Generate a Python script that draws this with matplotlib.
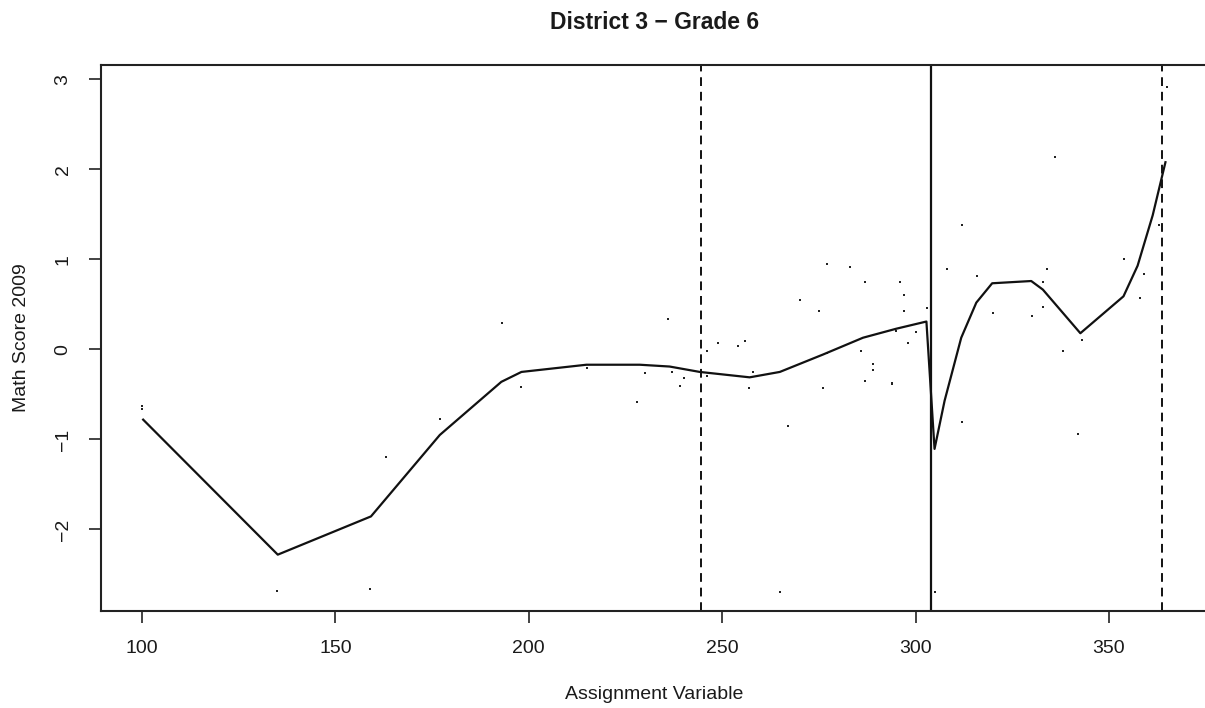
import matplotlib
matplotlib.use("Agg")
import matplotlib.pyplot as plt

plt.rcParams['font.family'] = ['Liberation Sans', 'DejaVu Sans']

# scatter data: assignment variable vs math score
pt_x = [100, 100, 135, 159, 163, 177, 193, 198, 215, 228, 230, 236, 237, 239, 240,
        246, 246, 249, 254, 256, 258, 257, 267, 265, 270, 275, 276, 277, 277, 283,
        286, 287, 287, 289, 289, 294, 294, 295, 296, 297, 297, 298, 300, 303, 305,
        308, 312, 312, 316, 320, 330, 333, 333, 334, 336, 338, 342, 343, 354, 358,
        359, 363, 365]
pt_y = [-0.63, -0.66, -2.68, -2.66, -1.20, -0.77, 0.29, -0.42, -0.21, -0.58, -0.26, 0.335, -0.25, -0.41, -0.32,
        -0.02, -0.29, 0.075, 0.04, 0.09, -0.25, -0.43, -0.85, -2.69, 0.55, 0.43, -0.43, 0.95, -0.035, 0.92,
        -0.02, 0.75, -0.35, -0.16, -0.23, -0.385, -0.37, 0.21, 0.75, 0.61, 0.43, 0.075, 0.19, 0.46, -2.69,
        0.89, 1.38, -0.81, 0.82, 0.41, 0.37, 0.75, 0.47, 0.89, 2.14, -0.02, -0.94, 0.10, 1.00, 0.57,
        0.84, 1.38, 2.92]

# smoothed fit line
fit_x = [100.3, 135.1, 159.2, 177.0, 192.9, 198.1, 214.9, 228.7, 236.4, 244.2, 257.1, 264.9,
         276.1, 286.4, 295.0, 302.8, 304.9, 307.5, 311.8, 315.7, 319.8, 329.9, 332.9, 342.6,
         353.75, 357.4, 361.3, 364.6]
fit_y = [-0.78, -2.28, -1.855, -0.95, -0.36, -0.25, -0.17, -0.17, -0.19, -0.25, -0.31, -0.25,
         -0.056, 0.13, 0.23, 0.31, -1.105, -0.57, 0.13, 0.52, 0.735, 0.76, 0.665, 0.18,
         0.59, 0.93, 1.49, 2.08]

cutoff = 304.1
band_lines = [244.4, 363.7]

x_ticks = [100, 150, 200, 250, 300, 350]
y_ticks = [-2, -1, 0, 1, 2, 3]

W, H = 1205, 708
fig = plt.figure(figsize=(W / 100, H / 100), dpi=100)
left, right, top, bottom = 101, 1208, 65, 611
ax = fig.add_axes([left / W, (H - bottom) / H, (right - left) / W, (bottom - top) / H])

ax.plot(pt_x, pt_y, linestyle='none', marker='s', markersize=2.0, color='#222222', markeredgewidth=0)
ax.plot(fit_x, fit_y, color='#111111', linewidth=1.6)
ax.axvline(cutoff, color='#111111', linewidth=1.6)
for b in band_lines:
    ax.axvline(b, color='#111111', linewidth=1.4, linestyle=(0, (4.5, 3)))

ax.set_xlim(89.4, 375.6)
ax.set_ylim(-2.906, 3.16)
ax.set_xticks(x_ticks)
ax.set_yticks(y_ticks)
ax.set_yticklabels([str(v).replace('-', '\u2212') for v in y_ticks], rotation=90, va='center')
ax.tick_params(axis='both', length=8.6, width=1.2, labelsize=14, pad=12.5, color='#222222',
               labelcolor='#1a1a1a')

for s in ax.spines.values():
    s.set_linewidth(1.5)
    s.set_color('#222222')

ax.set_xlabel('Assignment Variable', fontsize=14, labelpad=21, color='#1a1a1a')
ax.set_ylabel('Math Score 2009', fontsize=14, labelpad=18, color='#1a1a1a')
ax.set_title('District 3 \u2212 Grade 6', fontsize=16.5, fontweight='bold', pad=26, color='#1a1a1a')

fig.savefig('out.png', dpi=100)
